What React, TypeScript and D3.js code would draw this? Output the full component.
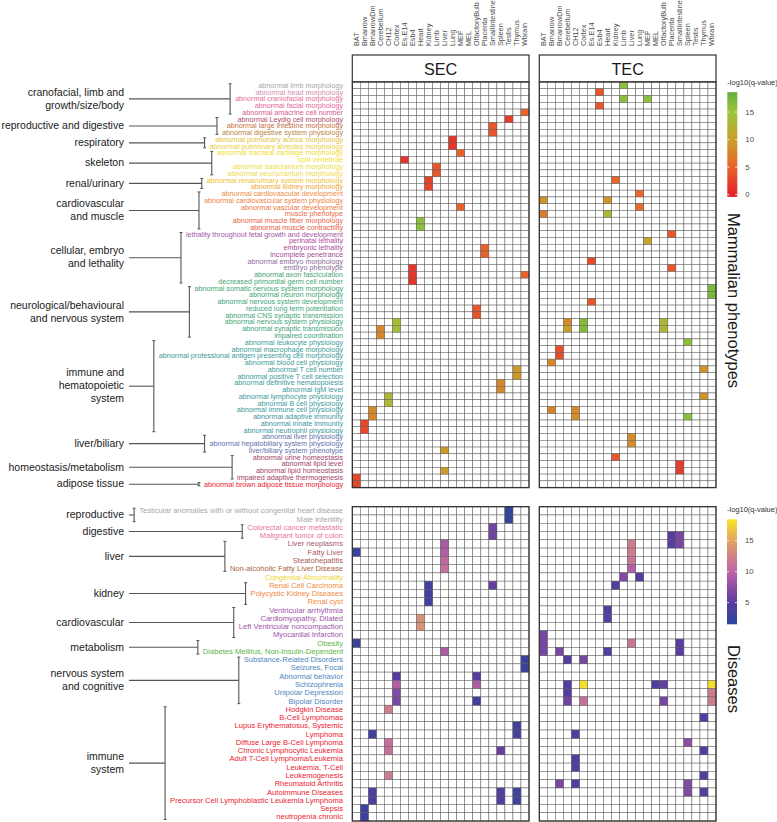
import React from "react";
import * as d3 from "d3";

const FONT = "'Liberation Sans', Arial, Helvetica, sans-serif";

const tissues = ["BAT","Bmarrow","BmarrowDm","Cerebellum","CH12","Cortex","Es.E14","Esb4","Heart","Kidney","Limb","Liver","Lung","MEF","MEL","OlfactoryBulb","Placenta","SmallIntestine","Spleen","Testis","Thymus","Wbrain"];
const panels = ["SEC", "TEC"];

const phenotypeRows = [
  "abnormal limb morphology","abnormal head morphology","abnormal craniofacial morphology","abnormal facial morphology","abnormal amacrine cell number",
  "abnormal Leydig cell morphology","abnormal large intestine morphology","abnormal digestive system physiology",
  "abnormal pulmonary acinus morphology","abnormal pulmonary alveolus morphology",
  "abnormal tracheal cartilage morphology","split vertebrae","abnormal basicranium morphology","abnormal neurocranium morphology",
  "abnormal renal/urinary system morphology","abnormal kidney morphology",
  "abnormal cardiovascular development","abnormal cardiovascular system physiology","abnormal vascular development","muscle phenotype","abnormal muscle fiber morphology","abnormal muscle contractility",
  "lethality throughout fetal growth and development","perinatal lethality","embryonic lethality","incomplete penetrance","abnormal embryo morphology","embryo phenotype","abnormal axon fasciculation","decreased primordial germ cell number",
  "abnormal somatic nervous system morphology","abnormal neuron morphology","abnormal nervous system development","reduced long term potentiation","abnormal CNS synaptic transmission","abnormal nervous system physiology","abnormal synaptic transmission","impaired coordination",
  "abnormal leukocyte physiology","abnormal macrophage morphology","abnormal professional antigen presenting cell morphology","abnormal blood cell physiology","abnormal T cell number","abnormal positive T cell selection","abnormal definitive hematopoiesis","abnormal IgM level","abnormal lymphocyte physiology","abnormal B cell physiology","abnormal immune cell physiology","abnormal adaptive immunity","abnormal innate immunity","abnormal neutrophil physiology",
  "abnormal liver physiology","abnormal hepatobiliary system physiology","liver/biliary system phenotype",
  "abnormal urine homeostasis","abnormal lipid level","abnormal lipid homeostasis","impaired adaptive thermogenesis",
  "abnormal brown adipose tissue morphology"
];
const phenotypeLabelColors = [
  "#a6a6a6","#d68cb1","#e86e9c","#e4679b","#d55b8f",
  "#b24d66","#c4713a","#bb8440",
  "#e3c23a","#e8cf3c",
  "#f0dd33","#f2e233","#f0dc3e","#efd84a",
  "#f2bf2d","#f3a533",
  "#f08a3e","#ef7f3f","#ee7740","#ea6a42","#e86343","#e55a45",
  "#a354a6","#b2449a","#a9489a","#a14c98","#8c6a9c","#8a6c98","#47a473","#46a474",
  "#41a575","#41a575","#40a576","#40a577","#3fa578","#3ea579","#3ea47a","#3da47b",
  "#3b9b98","#3b9b98","#3b9a99","#3b9a99","#3b9a9a","#3b999a","#3b999a","#3b999b","#3b989b","#3b989b","#3b989c","#3b979c","#3b979c","#3b979d",
  "#5f6fab","#5f6fab","#5f6fab",
  "#a3416a","#a3416a","#a3416a","#a3416a",
  "#e8212c"
];
const phenotypeGroups = [
  { label: ["cranofacial, limb and", "growth/size/body"], first: 0, last: 4 },
  { label: ["reproductive and digestive"], first: 5, last: 7 },
  { label: ["respiratory"], first: 8, last: 9 },
  { label: ["skeleton"], first: 10, last: 13 },
  { label: ["renal/urinary"], first: 14, last: 15 },
  { label: ["cardiovascular", "and muscle"], first: 16, last: 21 },
  { label: ["cellular, embryo", "and lethality"], first: 22, last: 29 },
  { label: ["neurological/behavioural", "and nervous system"], first: 30, last: 37 },
  { label: ["immune and", "hematopoietic", "system"], first: 38, last: 51 },
  { label: ["liver/biliary"], first: 52, last: 54 },
  { label: ["homeostasis/metabolism"], first: 55, last: 58 },
  { label: ["adipose tissue"], first: 59, last: 59 },
];

const diseaseRows = [
  "Testicular anomalies with or without congenital heart disease","Male infertility",
  "Colorectal cancer metastatic","Malignant tumor of colon",
  "Liver neoplasms","Fatty Liver","Steatohepatitis","Non-alcoholic Fatty Liver Disease",
  "Congenital Abnormality",
  "Renal Cell Carcinoma","Polycystic Kidney Diseases","Renal cyst",
  "Ventricular arrhythmia","Cardiomyopathy, Dilated","Left Ventricular noncompaction","Myocardial Infarction",
  "Obesity","Diabetes Mellitus, Non-Insulin-Dependent",
  "Substance-Related Disorders","Seizures, Focal","Abnormal behavior","Schizophrenia","Unipolar Depression","Bipolar Disorder",
  "Hodgkin Disease","B-Cell Lymphomas","Lupus Erythematosus, Systemic","Lymphoma","Diffuse Large B-Cell Lymphoma","Chronic Lymphocytic Leukemia","Adult T-Cell Lymphoma/Leukemia","Leukemia, T-Cell","Leukemogenesis","Rheumatoid Arthritis","Autoimmune Diseases","Precursor Cell Lymphoblastic Leukemia Lymphoma","Sepsis","neutropenia chronic"
];
const diseaseLabelColors = [
  "#a8a8a8","#a8a8a8",
  "#ea72a2","#ea72a2",
  "#a5566c","#ab5a57","#a85a52","#a7613f",
  "#ecd730",
  "#f08a3e","#f08a3e","#f08a3e",
  "#a152aa","#a152aa","#a152aa","#a152aa",
  "#5cb548","#5cb548",
  "#4a86c0","#4a86c0","#4a86c0","#4a86c0","#4a86c0","#4a86c0",
  "#ea2233","#ea2233","#ea2233","#ea2233","#ea2233","#ea2233","#ea2233","#ea2233","#ea2233","#ea2233","#ea2233","#ea2233","#ea2233","#ea2233"
];
const diseaseGroups = [
  { label: ["reproductive"], first: 0, last: 1 },
  { label: ["digestive"], first: 2, last: 3 },
  { label: ["liver"], first: 4, last: 7 },
  { label: ["kidney"], first: 9, last: 11 },
  { label: ["cardiovascular"], first: 12, last: 15 },
  { label: ["metabolism"], first: 16, last: 17 },
  { label: ["nervous system", "and cognitive"], first: 18, last: 23 },
  { label: ["immune", "system"], first: 24, last: 37 },
];

// [row index, tissue, -log10(q-value)]
const secPhenotypeCells: [number, string, number][] = [
  [4,"Wbrain",5],[5,"Testis",2],[6,"SmallIntestine",4],[7,"SmallIntestine",4],
  [8,"Lung",1.5],[9,"Lung",1.5],[10,"MEF",5],[11,"Es.E14",1.5],
  [12,"Limb",4],[13,"Limb",4],[14,"Kidney",2.5],[15,"Kidney",2.5],
  [18,"MEF",5],[20,"Heart",16],[21,"Heart",16],[24,"Placenta",5],[25,"Placenta",5],
  [27,"Esb4",1.5],[28,"Esb4",1.5],[29,"Esb4",1.5],[28,"Wbrain",5],
  [33,"OlfactoryBulb",4],[34,"OlfactoryBulb",4],[35,"Cortex",14],[36,"Cortex",14],
  [36,"Cerebellum",8],[37,"Cerebellum",8],[42,"Thymus",9.5],[43,"Thymus",9.5],
  [44,"Spleen",8],[45,"Spleen",8],[46,"CH12",13],[47,"CH12",13],
  [48,"BmarrowDm",8],[49,"BmarrowDm",8],[50,"Bmarrow",3],[51,"Bmarrow",3],
  [54,"Liver",9.5],[57,"Liver",9.5],[58,"BAT",3],[59,"BAT",3]
];
const tecPhenotypeCells: [number, string, number][] = [
  [0,"Limb",16],[2,"Limb",16],[1,"Esb4",4],[3,"Esb4",4],[2,"MEF",16],
  [14,"Kidney",5],[16,"Lung",5.5],[17,"BAT",9],[17,"Heart",9],[18,"Lung",5.5],
  [19,"BAT",7],[19,"Heart",13],[22,"Placenta",4],[23,"MEF",10.5],[26,"Es.E14",3],
  [27,"Placenta",4],[30,"Wbrain",17],[31,"Wbrain",17],[32,"Es.E14",4],
  [35,"Cerebellum",8],[36,"Cerebellum",10],[35,"Cortex",16.5],[36,"Cortex",16.5],
  [35,"OlfactoryBulb",13],[36,"OlfactoryBulb",13],[38,"Spleen",16],
  [39,"BmarrowDm",3.5],[40,"BmarrowDm",3.5],[41,"Bmarrow",8],[42,"Thymus",9],
  [46,"Thymus",9],[48,"Bmarrow",7.5],[48,"CH12",8.5],[49,"CH12",8.5],[49,"Spleen",16],
  [52,"Liver",8.5],[53,"Liver",8.5],[55,"Kidney",4],[56,"SmallIntestine",2],[57,"SmallIntestine",2]
];
const secDiseaseCells: [number, string, number][] = [
  [0,"Testis",2],[1,"Testis",2],[2,"SmallIntestine",6],[3,"SmallIntestine",6],
  [4,"Liver",9],[5,"Liver",9.5],[6,"Liver",10.5],[7,"Liver",11],[5,"BAT",2.5],
  [9,"Kidney",3],[10,"Kidney",3],[11,"Kidney",3],[9,"SmallIntestine",5.5],
  [13,"Heart",13.5],[14,"Heart",13.5],[16,"BAT",2.5],[17,"Liver",9],
  [18,"Wbrain",2.5],[19,"Wbrain",2.5],[20,"Cortex",5],[21,"Cortex",9.5],[22,"Cortex",7],[23,"Cortex",6.5],
  [20,"OlfactoryBulb",4.5],[21,"OlfactoryBulb",9],[23,"OlfactoryBulb",3],
  [24,"CH12",12],[26,"Thymus",3.5],[27,"Thymus",3.5],[27,"BmarrowDm",3],
  [28,"CH12",11],[29,"CH12",11],[29,"Spleen",5.5],[32,"CH12",12],
  [34,"BmarrowDm",4],[35,"BmarrowDm",4],[34,"Spleen",4.5],[35,"Spleen",4.5],
  [34,"Thymus",3],[35,"Thymus",3],[36,"Bmarrow",3],[37,"Bmarrow",3]
];
const tecDiseaseCells: [number, string, number][] = [
  [3,"Placenta",5],[4,"Placenta",5],[3,"SmallIntestine",6.5],[4,"SmallIntestine",6.5],
  [4,"Liver",12],[5,"Liver",12],[6,"Liver",11.5],[7,"Liver",9.5],
  [8,"Limb",7],[8,"Lung",4.5],[9,"Kidney",4.5],[12,"Heart",4.5],[13,"Heart",4.5],
  [15,"BAT",6.5],[16,"BAT",6.5],[17,"BAT",6.5],[16,"Liver",11.5],[16,"SmallIntestine",5],[17,"SmallIntestine",5],
  [17,"BmarrowDm",6.5],[17,"Heart",4.5],[18,"Cerebellum",4.5],[18,"Cortex",6.5],
  [21,"Cerebellum",4.5],[22,"Cerebellum",4.5],[23,"Cerebellum",6],[21,"Cortex",18],[23,"Cortex",11],
  [21,"MEL",4.5],[21,"OlfactoryBulb",5.5],[23,"OlfactoryBulb",6.5],
  [21,"Wbrain",18],[22,"Wbrain",12],[23,"Wbrain",12],
  [25,"Thymus",4.5],[27,"CH12",4.5],[28,"Spleen",7.5],[29,"Thymus",4.5],
  [30,"CH12",4.5],[31,"CH12",4.5],[32,"Thymus",4.5],[33,"BmarrowDm",6.5],[33,"CH12",4.5],
  [33,"Spleen",7],[34,"Spleen",7],[34,"Thymus",4.5]
];

const phenoTicks = [0, 5, 10, 15];
const diseaseTicks = [5, 10, 15];
const phenoRange: [number, number] = [-0.4, 18.6];
const diseaseRange: [number, number] = [1.5, 18.45];

const phenoColor = d3.scaleLinear<string>()
  .domain([0, 5, 10, 15, 18.6])
  .range(["#e3222b", "#e9622a", "#c9a02a", "#9cc53c", "#62ae3a"])
  .clamp(true);
const diseaseColor = d3.scaleLinear<string>()
  .domain([1.5, 5, 10, 15, 18.45])
  .range(["#2c469b", "#5a3b9f", "#bd63a8", "#e2a366", "#f7e625"])
  .clamp(true);

let _ctx: CanvasRenderingContext2D | null = null;
function textWidth(t: string, size: number) {
  if (!_ctx) _ctx = document.createElement("canvas").getContext("2d");
  if (!_ctx) return t.length * size * 0.5;
  _ctx.font = `${size}px 'Liberation Sans', Arial, sans-serif`;
  return _ctx.measureText(t).width;
}

const W = 777, H = 822;
const xRanges: Record<string, [number, number]> = { SEC: [352.3, 529], TEC: [539.3, 716] };
const LABEL_RIGHT = 343;
const GROUP_RIGHT = 124;
const LINE_COLOR = "#555";
const GRID = "#5e5e5e";

function Heat({ rows, y, cellsByPanel, color, rowColors, fontSize, groups, ext }: any) {
  const bw = y.bandwidth();
  return (
    <g>
      {panels.map((p) => {
        const x = d3.scaleBand<string>().domain(tissues).range(xRanges[p]);
        const cw = x.bandwidth();
        const cells: [number, string, number][] = cellsByPanel[p];
        return (
          <g key={p}>
            {rows.map((r: string) => tissues.map((t) => (
              <rect key={r + t} x={x(t)} y={y(r)} width={cw} height={bw} fill="#fff" stroke={GRID} strokeWidth={0.5} />
            )))}
            {cells.map(([ri, t, v], i) => (
              <rect key={i} x={x(t)} y={y(rows[ri])} width={cw} height={bw} fill={color(v)} stroke={GRID} strokeWidth={0.4} />
            ))}
            <rect x={xRanges[p][0]} y={y.range()[0]} width={xRanges[p][1] - xRanges[p][0]} height={y.range()[1] - y.range()[0]} fill="none" stroke="#333" strokeWidth={1.3} />
          </g>
        );
      })}
      {rows.map((r: string, i: number) => (
        <text key={r} x={LABEL_RIGHT} y={(y(r) as number) + bw / 2} textAnchor="end" dominantBaseline="central" fontSize={fontSize} fill={rowColors[i]} fontFamily={FONT}>{r}</text>
      ))}
      {groups.map((g: any, gi: number) => {
        const y0 = (y(rows[g.first]) as number) + bw / 2;
        const y1 = (y(rows[g.last]) as number) + bw / 2;
        const mid = (y0 + y1) / 2;
        const maxW = d3.max(rows.slice(g.first, g.last + 1), (r: string) => textWidth(r, fontSize)) as number;
        const bx = LABEL_RIGHT - maxW - 5;
        const n = g.label.length;
        return (
          <g key={gi}>
            <line x1={GROUP_RIGHT + 5} x2={bx} y1={mid} y2={mid} stroke={LINE_COLOR} strokeWidth={1.1} />
            <line x1={bx} x2={bx} y1={y0 - ext} y2={y1 + ext} stroke={LINE_COLOR} strokeWidth={1.1} />
            <line x1={bx - 1.5} x2={bx + 1.5} y1={y0 - ext} y2={y0 - ext} stroke={LINE_COLOR} strokeWidth={1} />
            <line x1={bx - 1.5} x2={bx + 1.5} y1={y1 + ext} y2={y1 + ext} stroke={LINE_COLOR} strokeWidth={1} />
            {g.label.map((t: string, i: number) => (
              <text key={i} x={GROUP_RIGHT} y={mid - 0.8 + (i - (n - 1) / 2) * 13} textAnchor="end" dominantBaseline="central" fontSize={10.5} fill="#1a1a1a" fontFamily={FONT}>{t}</text>
            ))}
          </g>
        );
      })}
    </g>
  );
}

function Legend({ id, x, y0, y1, range, ticks, color, titleY }: any) {
  const ys = d3.scaleLinear().domain(range).range([y1, y0]);
  const stops = d3.range(0, 1.0001, 0.05).map((f) => range[0] + f * (range[1] - range[0]));
  const w = 10;
  return (
    <g>
      <defs>
        <linearGradient id={id} x1="0" y1="1" x2="0" y2="0">
          {stops.map((v, i) => (
            <stop key={i} offset={`${(i / (stops.length - 1)) * 100}%`} stopColor={color(v)} />
          ))}
        </linearGradient>
      </defs>
      <text x={x} y={titleY} fontSize={7.5} fill="#333" fontFamily={FONT} dominantBaseline="central">-log10(q-value)</text>
      <rect x={x} y={y0} width={w} height={y1 - y0} fill={`url(#${id})`} />
      {ticks.map((t: number) => (
        <g key={t}>
          <line x1={x} x2={x + 2} y1={ys(t)} y2={ys(t)} stroke="#fff" strokeWidth={0.8} />
          <line x1={x + w - 2} x2={x + w} y1={ys(t)} y2={ys(t)} stroke="#fff" strokeWidth={0.8} />
          <text x={x + 18} y={ys(t)} fontSize={7.8} fill="#4d4d4d" fontFamily={FONT} dominantBaseline="central">{t}</text>
        </g>
      ))}
    </g>
  );
}

export default function App() {
  const yPheno = d3.scaleBand<string>().domain(phenotypeRows).range([82, 487.6]);
  const yDis = d3.scaleBand<string>().domain(diseaseRows).range([506.7, 821]);
  return (
    <div style={{ position: "absolute", left: 0, top: 0 }}>
      <svg width={W} height={H} style={{ display: "block", background: "#fff" }}>
        {panels.map((p) => {
          const x = d3.scaleBand<string>().domain(tissues).range(xRanges[p]);
          return tissues.map((t) => {
            const cx = (x(t) as number) + x.bandwidth() / 2;
            return (
              <text key={p + t} x={cx} y={46} transform={`rotate(-90 ${cx} 46)`} fontSize={7.3} fill="#4d4d4d" fontFamily={FONT} dominantBaseline="central">{t}</text>
            );
          });
        })}
        {panels.map((p) => (
          <g key={p}>
            <rect x={xRanges[p][0]} y={55} width={xRanges[p][1] - xRanges[p][0]} height={27} fill="#fff" stroke="#333" strokeWidth={1.2} />
            <text x={(xRanges[p][0] + xRanges[p][1]) / 2} y={68.8} textAnchor="middle" dominantBaseline="central" fontSize={16.2} fill="#1a1a1a" fontFamily={FONT}>{p}</text>
          </g>
        ))}
        <Heat rows={phenotypeRows} y={yPheno} cellsByPanel={{ SEC: secPhenotypeCells, TEC: tecPhenotypeCells }} color={phenoColor} rowColors={phenotypeLabelColors} fontSize={7.2} groups={phenotypeGroups} ext={1.6} />
        <Heat rows={diseaseRows} y={yDis} cellsByPanel={{ SEC: secDiseaseCells, TEC: tecDiseaseCells }} color={diseaseColor} rowColors={diseaseLabelColors} fontSize={7.6} groups={diseaseGroups} ext={2.6} />
        <Legend id="gp" x={727.3} y0={92.2} y1={196.9} range={phenoRange} ticks={phenoTicks} color={phenoColor} titleY={82} />
        <Legend id="gd" x={727} y0={519.3} y1={624.3} range={diseaseRange} ticks={diseaseTicks} color={diseaseColor} titleY={509.3} />
        <text x={734} y={300.5} transform="rotate(90 734 300.5)" textAnchor="middle" dominantBaseline="central" fontSize={16.5} fill="#1a1a1a" fontFamily={FONT}>Mammalian phenotypes</text>
        <text x={734} y={679} transform="rotate(90 734 679)" textAnchor="middle" dominantBaseline="central" fontSize={16.5} fill="#1a1a1a" fontFamily={FONT}>Diseases</text>
      </svg>
    </div>
  );
}
